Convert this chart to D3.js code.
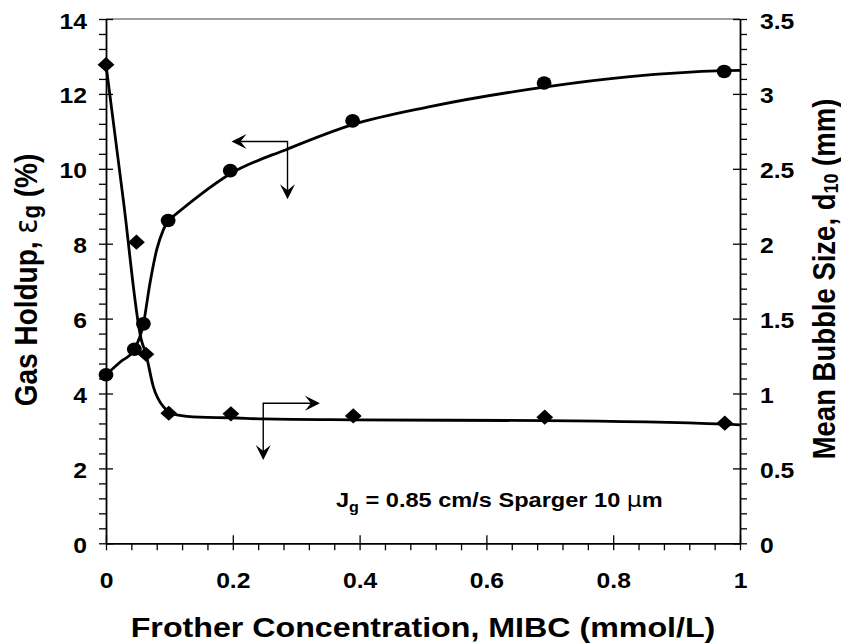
<!DOCTYPE html>
<html>
<head>
<meta charset="utf-8">
<script src="https://cdn.jsdelivr.net/npm/d3@7"></script>
<style>
  html, body { margin: 0; padding: 0; background: #fff; }
  svg { display: block; }
  text { font-family: "Liberation Sans", Arial, Helvetica, sans-serif; font-weight: bold; fill: #000; }
</style>
</head>
<body>
<svg id="chart" width="841" height="643"></svg>
<script>
// Gas holdup (left axis) measured at each MIBC dose
const holdupConc = [0, 0.0447, 0.059, 0.098, 0.196, 0.389, 0.691, 0.975];
const gasHoldup  = [4.50, 5.18, 5.86, 8.62, 9.95, 11.28, 12.29, 12.60];

// Mean bubble size d10 (right axis)
const bubbleConc = [0, 0.048, 0.063, 0.099, 0.197, 0.390, 0.692, 0.976];
const bubbleSize = [3.195, 2.01, 1.262, 0.868, 0.864, 0.850, 0.842, 0.802];

// Smoothed trend through the holdup points (the curve breaks its slope at 0.098)
const holdupFitConc = [0, 0.022, 0.0447, 0.059, 0.0694, 0.080, 0.0904, 0.098, 0.148, 0.1955, 0.2866, 0.389, 0.511, 0.691, 0.8265, 0.975, 1.0];
const holdupFit     = [4.50, 4.835, 5.18, 5.86, 6.95, 7.84, 8.37, 8.62, 9.30, 9.86, 10.53, 11.18, 11.66, 12.18, 12.46, 12.62, 12.63];
const holdupBreak = 0.098;

// Smoothed trend through the bubble-size points
const bubbleFitConc = [0, 0.0273, 0.0557, 0.063, 0.0746, 0.0904, 0.1115, 0.148, 0.197, 0.248, 0.390, 0.692, 0.977, 1.0];
const bubbleFit     = [3.195, 2.293, 1.358, 1.263, 1.046, 0.912, 0.857, 0.842, 0.838, 0.830, 0.824, 0.819, 0.795, 0.790];

// Tick values
const xMajor = [0, 0.2, 0.4, 0.6, 0.8, 1];
const xTickLabels = ["0", "0.2", "0.4", "0.6", "0.8", "1"];
const yLeftMajor = [0, 2, 4, 6, 8, 10, 12, 14];
const yRightMajor = [0, 0.5, 1, 1.5, 2, 2.5, 3, 3.5];
const yRightLabels = ["0", "0.5", "1", "1.5", "2", "2.5", "3", "3.5"];

const svg = d3.select("#chart");
const plot = { left: 106, right: 740, top: 19, bottom: 543.3 };
const SX = 1.15; // horizontal widening of all lettering

const x  = d3.scaleLinear([0, 1], [plot.left, plot.right]);
const yL = d3.scaleLinear([0, 14], [plot.bottom, plot.top]);
const yR = d3.scaleLinear([0, 3.5], [plot.bottom, plot.top]);

// widen a text element horizontally around its anchor point
function widen(sel, px, py, rot) {
  sel.attr("x", null).attr("y", null).attr("dy", null)
     .attr("transform", `translate(${px},${py}) scale(${SX},1)` + (rot ? ` rotate(${rot})` : ""));
}

// top frame line
svg.append("line")
  .attr("x1", plot.left).attr("x2", plot.right)
  .attr("y1", plot.top).attr("y2", plot.top)
  .attr("stroke", "#808080").attr("stroke-width", 1.5);

// ---- X axis ----
const xMinor = d3.range(0, 1.0001, 0.04).filter(v => !xMajor.some(m => Math.abs(m - v) < 1e-6));
const gx = svg.append("g").attr("transform", `translate(0,${plot.bottom})`);
gx.call(d3.axisBottom(x).tickValues(xMinor).tickSize(7).tickFormat(""));
gx.call(g => g.selectAll(".tick line").attr("stroke-width", 1.3));
const gxMaj = svg.append("g").attr("transform", `translate(0,${plot.bottom})`)
  .call(d3.axisBottom(x).tickValues(xMajor).tickSize(7).tickSizeOuter(0)
        .tickFormat((d, i) => xTickLabels[i]));
gxMaj.selectAll(".tick line").attr("y1", -8).attr("stroke-width", 1.3);
gxMaj.selectAll(".tick text").attr("font-size", 21.5).attr("text-anchor", "middle")
  .each(function () { widen(d3.select(this), 0, 45); });
gx.select(".domain").remove();
gxMaj.select(".domain").attr("stroke-width", 1.8);

// ---- Left Y axis ----
const yLMinor = d3.range(0, 14.0001, 0.4).filter(v => !yLeftMajor.some(m => Math.abs(m - v) < 1e-6));
const gyl = svg.append("g").attr("transform", `translate(${plot.left},0)`);
gyl.call(d3.axisLeft(yL).tickValues(yLMinor).tickSize(7).tickFormat(""));
gyl.selectAll(".tick line").attr("stroke-width", 1.3);
gyl.select(".domain").remove();
const gylMaj = svg.append("g").attr("transform", `translate(${plot.left},0)`)
  .call(d3.axisLeft(yL).tickValues(yLeftMajor).tickSize(7).tickSizeOuter(0).tickFormat(d3.format("d")));
gylMaj.selectAll(".tick line").attr("x1", 7).attr("stroke-width", 1.3);
gylMaj.selectAll(".tick text").attr("font-size", 21.5).attr("text-anchor", "end")
  .each(function () { widen(d3.select(this), -19, 9); });
gylMaj.select(".domain").attr("stroke-width", 1.8);

// ---- Right Y axis ----
const yRMinor = d3.range(0, 3.5001, 0.1).filter(v => !yRightMajor.some(m => Math.abs(m - v) < 1e-6));
const gyr = svg.append("g").attr("transform", `translate(${plot.right},0)`);
gyr.call(d3.axisRight(yR).tickValues(yRMinor).tickSize(7).tickFormat(""));
gyr.selectAll(".tick line").attr("stroke-width", 1.3);
gyr.select(".domain").remove();
const gyrMaj = svg.append("g").attr("transform", `translate(${plot.right},0)`)
  .call(d3.axisRight(yR).tickValues(yRightMajor).tickSize(7).tickSizeOuter(0)
        .tickFormat((d, i) => yRightLabels[i]));
gyrMaj.selectAll(".tick line").attr("x1", -7).attr("stroke-width", 1.3);
gyrMaj.selectAll(".tick text").attr("font-size", 21.5).attr("text-anchor", "start")
  .each(function () { widen(d3.select(this), 20, 9); });
gyrMaj.select(".domain").attr("stroke-width", 1.8);

// ---- Fitted curves ----
const holdupPts = holdupFitConc.map((c, i) => [c, holdupFit[i]]);
const holdupLine = d3.line().x(d => x(d[0])).y(d => yL(d[1])).curve(d3.curveMonotoneX);
const holdupParts = [
  holdupPts.filter(d => d[0] <= holdupBreak),
  holdupPts.filter(d => d[0] >= holdupBreak)
];
holdupParts.forEach(part => {
  svg.append("path").attr("d", holdupLine(part))
    .attr("fill", "none").attr("stroke", "#000").attr("stroke-width", 2.8)
    .attr("stroke-linejoin", "round");
});

const bubbleLine = d3.line().x((d, i) => x(bubbleFitConc[i])).y(d => yR(d)).curve(d3.curveMonotoneX);
svg.append("path").attr("d", bubbleLine(bubbleFit))
  .attr("fill", "none").attr("stroke", "#000").attr("stroke-width", 2.8);

// ---- Markers ----
svg.append("g").selectAll("ellipse").data(gasHoldup).join("ellipse")
  .attr("cx", (d, i) => x(holdupConc[i])).attr("cy", d => yL(d))
  .attr("rx", 7.4).attr("ry", 6.8).attr("fill", "#000");

svg.append("g").selectAll("path").data(bubbleSize).join("path")
  .attr("transform", (d, i) => `translate(${x(bubbleConc[i])},${yR(d)})`)
  .attr("d", "M0,-7.6L8.4,0L0,7.6L-8.4,0Z").attr("fill", "#000");

// ---- Axis-pointer arrows ----
function arrowHead(tipX, tipY, dir) {
  // dir: unit vector along arrow direction
  const L = 15, W = 7.5, N = 9;
  const [ux, uy] = dir, px = -uy, py = ux;
  const bx = tipX - ux * L, by = tipY - uy * L;
  const nx = tipX - ux * N, ny = tipY - uy * N;
  return `M${tipX},${tipY}L${bx + px * W},${by + py * W}L${nx},${ny}L${bx - px * W},${by - py * W}Z`;
}
const arrows = [
  { corner: [0.2863, 10.73], tipX: 0.198, tipY: 9.19, hDir: -1, axis: yL },
  { corner: [0.248, 3.74], tipX: 0.3375, tipY: 2.225, hDir: 1, axis: yL }
];
const ga = svg.append("g");
arrows.forEach(a => {
  const cx = x(a.corner[0]), cy = a.axis(a.corner[1]);
  const hx = x(a.tipX), vy = a.axis(a.tipY);
  ga.append("path").attr("d", `M${hx - a.hDir * 9},${cy}L${cx},${cy}L${cx},${vy - 9}`)
    .attr("fill", "none").attr("stroke", "#000").attr("stroke-width", 1.4);
  ga.append("path").attr("d", arrowHead(hx, cy, [a.hDir, 0])).attr("fill", "#000");
  ga.append("path").attr("d", arrowHead(cx, vy, [0, 1])).attr("fill", "#000");
});

// ---- Annotation ----
const note = svg.append("text").attr("font-size", 20.5);
widen(note, 336, 506.7);
note.append("tspan").text("J");
note.append("tspan").attr("font-size", 14).attr("dy", 5).text("g");
note.append("tspan").attr("dy", -5).text(" = 0.85 cm/s Sparger 10 ");
note.append("tspan").attr("font-weight", "normal").attr("font-family", "DejaVu Sans").text("μ");
note.append("tspan").text("m");

// ---- Axis titles ----
const xt = svg.append("text").attr("font-size", 28).attr("text-anchor", "middle")
  .text("Frother Concentration, MIBC (mmol/L)");
widen(xt, 423, 636.5);

const ylt = svg.append("text").attr("font-size", 28).attr("text-anchor", "middle");
widen(ylt, 36.5, 280, -90);
ylt.append("tspan").text("Gas Holdup, ");
ylt.append("tspan").attr("font-weight", "normal").attr("font-family", "DejaVu Sans").text("ε");
ylt.append("tspan").attr("font-size", 22).attr("dy", 3).text("g");
ylt.append("tspan").attr("dy", -3).text(" (%)");

const yrt = svg.append("text").attr("font-size", 27.5).attr("text-anchor", "middle");
widen(yrt, 834.5, 279, -90);
yrt.append("tspan").text("Mean Bubble Size, d");
yrt.append("tspan").attr("font-size", 18).attr("dy", 3).text("10");
yrt.append("tspan").attr("dy", -3).text(" (mm)");
</script>
</body>
</html>
